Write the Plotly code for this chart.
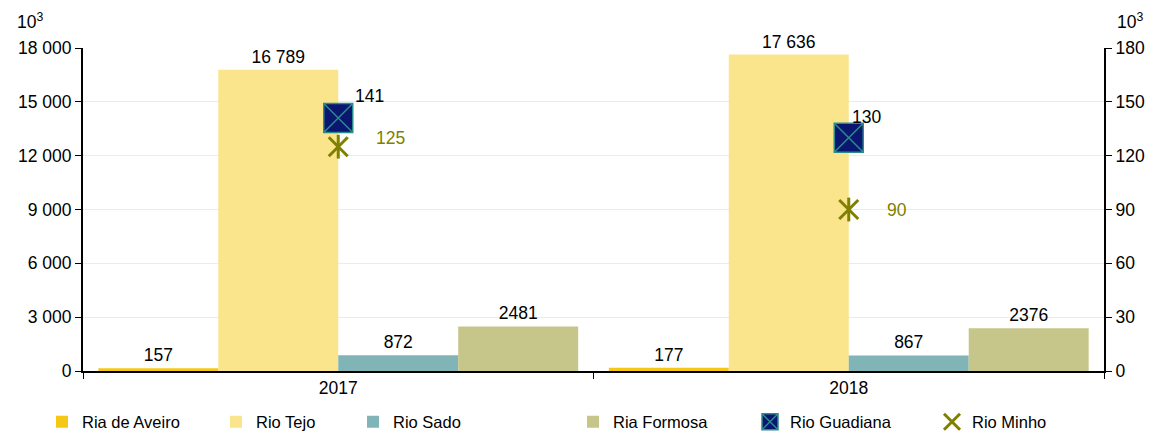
import plotly.graph_objects as go

years = ["2017", "2018"]
bar_series = ["Ria de Aveiro", "Rio Tejo", "Rio Sado", "Ria Formosa"]
aveiro = [157, 177]
tejo = [16789, 17636]
sado = [872, 867]
formosa = [2481, 2376]
bar_labels = {
    "Ria de Aveiro": ["157", "177"],
    "Rio Tejo": ["16 789", "17 636"],
    "Rio Sado": ["872", "867"],
    "Ria Formosa": ["2481", "2376"],
}
guadiana = [141, 130]
minho = [125, 90]

left_ticks = [0, 3000, 6000, 9000, 12000, 15000, 18000]
left_ticktext = ["0", "3 000", "6 000", "9 000", "12 000", "15 000", "18 000"]
right_ticks = [0, 30, 60, 90, 120, 150, 180]

colors = {
    "Ria de Aveiro": "#F5C816",
    "Rio Tejo": "#FAE58C",
    "Rio Sado": "#80B4B6",
    "Ria Formosa": "#C7C68A",
}
FONT = "Liberation Sans, Arial, sans-serif"
OFF = 8  # page body margin offset
W, H = 1159 - OFF, 432 - OFF
ML, MR, MT, MB = 83 - OFF, 55, 48 - OFF, 61
PW, PH = W - ML - MR, H - MT - MB
# legend text start positions (px, page coords) for each series, in order
legend_text_x = [82, 256, 393, 613, 790, 972]
legend_ids = ["legend", "legend2", "legend3", "legend4", "legend5", "legend6"]

fig = go.Figure()
for k, (name, vals) in enumerate(zip(bar_series, [aveiro, tejo, sado, formosa])):
    fig.add_trace(go.Bar(
        x=years, y=vals, name=name, marker_color=colors[name],
        marker_line_width=0, legend=legend_ids[k],
        text=bar_labels[name], textposition="outside", cliponaxis=False,
        textfont=dict(size=17.5, color="#000000", family=FONT),
    ))

fig.add_trace(go.Scatter(
    x=years, y=guadiana, name="Rio Guadiana", yaxis="y2", mode="markers",
    legend=legend_ids[4],
    marker=dict(symbol="square-x", size=29, color="#0A1670",
                line=dict(color="#2A8C8C", width=1.5)),
    cliponaxis=False,
))
fig.add_trace(go.Scatter(
    x=years, y=minho, name="Rio Minho", yaxis="y2", mode="markers",
    legend=legend_ids[5],
    marker=dict(symbol="x-thin-open", size=19, color="#7F7F00",
                line=dict(color="#7F7F00", width=3)),
    cliponaxis=False,
))
fig.add_trace(go.Scatter(
    x=years, y=minho, yaxis="y2", mode="markers", showlegend=False,
    marker=dict(symbol="line-ns-open", size=17, color="#7F7F00",
                line=dict(color="#7F7F00", width=3)),
    cliponaxis=False, hoverinfo="skip",
))

annotations = []
for i, (v, xs, ys) in enumerate(zip(guadiana, [15, 1], [10, 9])):
    annotations.append(dict(
        x=i, y=v, xref="x", yref="y2", text=str(v), showarrow=False,
        xanchor="left", yanchor="bottom", xshift=xs, yshift=ys,
        font=dict(size=17.5, color="#000000", family=FONT),
    ))
for i, (v, ys) in enumerate(zip(minho, [9, 0])):
    annotations.append(dict(
        x=i, y=v, xref="x", yref="y2", text=str(v), showarrow=False,
        xanchor="left", yanchor="middle", xshift=36, yshift=ys,
        font=dict(size=17.5, color="#7F7F00", family=FONT),
    ))
for px in (30, 1130):
    annotations.append(dict(
        xref="paper", yref="paper", x=(px - OFF - ML) / PW,
        y=(H - MB - (21 - OFF)) / PH,
        text="10<sup>3</sup>", showarrow=False, xanchor="center",
        yanchor="middle", font=dict(size=17.5, color="#000000", family=FONT),
    ))

legend_layout = {}
for lid, tx in zip(legend_ids, legend_text_x):
    legend_layout[lid] = dict(
        orientation="h", xref="container", yref="container",
        x=(tx - 40 - OFF) / W, xanchor="left", y=(432 - 422) / H,
        yanchor="middle",
        font=dict(size=16.5, family=FONT, color="#000000"),
        bgcolor="rgba(0,0,0,0)", borderwidth=0, itemclick=False,
    )

fig.update_layout(
    width=W, height=H,
    margin=dict(l=ML, r=MR, t=MT, b=MB, autoexpand=False),
    paper_bgcolor="white", plot_bgcolor="white",
    font=dict(family=FONT, size=17.5, color="#000000"),
    barmode="group", bargap=0.06, bargroupgap=0,
    showlegend=True,
    xaxis=dict(
        type="category", range=[-0.5, 1.5], showgrid=False, showline=True,
        linecolor="#000000", linewidth=2, ticks="outside", ticklen=6,
        tickcolor="#000000", tickson="boundaries", tickfont=dict(size=17.5),
        zeroline=False, tickangle=0, automargin=False,
    ),
    yaxis=dict(
        range=[0, 18000], tickvals=left_ticks, ticktext=left_ticktext,
        showgrid=True, gridcolor="#EBEBEB", gridwidth=1,
        showline=True, linecolor="#000000", linewidth=2,
        ticks="outside", ticklen=6, tickcolor="#000000", zeroline=False,
        tickfont=dict(size=17.5), automargin=False,
    ),
    yaxis2=dict(
        range=[0, 180], tickvals=right_ticks, overlaying="y", side="right",
        showgrid=False, showline=True, linecolor="#000000", linewidth=2,
        ticks="outside", ticklen=6, tickcolor="#000000", zeroline=False,
        tickfont=dict(size=17.5), automargin=False,
    ),
    annotations=annotations,
    **legend_layout,
)

fig.write_html("out.html")
